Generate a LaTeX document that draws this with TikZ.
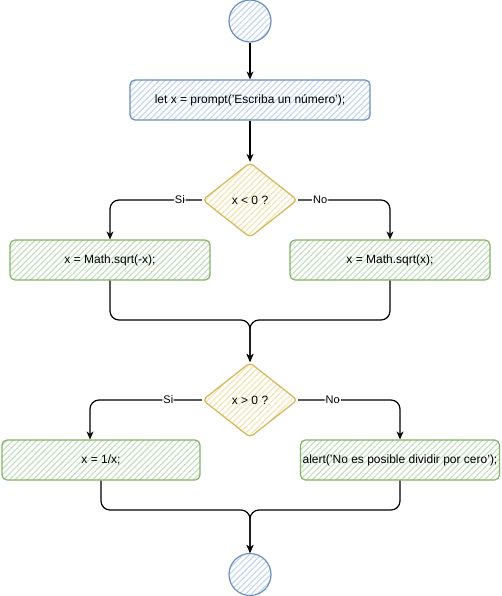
\documentclass[tikz,border=0pt]{standalone}
\usepackage{fontspec}
\setmainfont{Liberation Sans}
\usetikzlibrary{shapes.geometric,arrows.meta,patterns.meta}
\definecolor{bfill}{HTML}{DAE8FC}
\definecolor{bstroke}{HTML}{6C8EBF}
\definecolor{gfill}{HTML}{D5E8D4}
\definecolor{gstroke}{HTML}{82B366}
\definecolor{yfill}{HTML}{FFF2CC}
\definecolor{ystroke}{HTML}{D6B656}
\begin{document}
\begin{tikzpicture}[x=1pt,y=-1pt,
  hatch/.style={pattern={Lines[angle=45,distance=4.2pt,line width=1.1pt]}},
  bluebox/.style={draw=bstroke,line width=1.2pt,hatch,pattern color=bfill!80!bstroke},
  greenbox/.style={draw=gstroke,line width=1.2pt,hatch,pattern color=gfill!80!gstroke},
  yellowbox/.style={draw=ystroke,line width=1.2pt,hatch,pattern color=yfill!75!ystroke},
  term/.style={circle,bluebox,minimum size=42pt,inner sep=0pt},
  procbox/.style={rectangle,rounded corners=5pt,minimum height=40pt,inner sep=0pt,font=\fontsize{12pt}{14pt}\selectfont},
  decision/.style={diamond,yellowbox,rounded corners=4pt,minimum width=95pt,minimum height=75pt,inner sep=0pt,font=\fontsize{12pt}{14pt}\selectfont},
  edge/.style={draw=black,line width=1.2pt,rounded corners=9pt,-{Stealth[open,length=8pt,width=7pt,inset=2.5pt]}},
  lbl/.style={fill=white,inner sep=1pt,font=\fontsize{11pt}{13pt}\selectfont}]
\useasboundingbox (0,0) rectangle (501,596);
\fill[white] (0,0) rectangle (501,596);

\node[term] (s) at (250,21) {};
\node[procbox,bluebox,minimum width=240pt] (p) at (250,100) {let x = prompt('Escriba un número');};
\node[decision] (d1) at (250,200) {x < 0 ?};
\node[procbox,greenbox,minimum width=200pt] (l1) at (110,260) {x = Math.sqrt(-x);};
\node[procbox,greenbox,minimum width=200pt] (r1) at (390,260) {x = Math.sqrt(x);};
\node[decision] (d2) at (250,400) {x > 0 ?};
\node[procbox,greenbox,minimum width=198pt] (l2) at (101,460) {x = 1/x;};
\node[procbox,greenbox,minimum width=199pt] (r2) at (400,460) {alert('No es posible dividir por cero');};
\node[term] (e) at (250,574.5) {};

\coordinate (m1) at (250,320);
\coordinate (m2) at (250,510);

\draw[edge] (s) -- (p);
\draw[edge] (p) -- (d1);
\draw[edge] (d1.west) -| node[lbl,pos=0.12]{Si} (l1.north);
\draw[edge] (d1.east) -| node[lbl,pos=0.12]{No} (r1.north);
\draw[edge] (l1.south) |- (m1) -- (d2.north);
\draw[edge] (r1.south) |- (m1) -- (d2.north);
\draw[edge] (d2.west) -| node[lbl,pos=0.15]{Si} ([xshift=-11pt]l2.north);
\draw[edge] (d2.east) -| node[lbl,pos=0.17]{No} (r2.north);
\draw[edge] (l2.south) |- (m2) -- (e.north);
\draw[edge] (r2.south) |- (m2) -- (e.north);
\end{tikzpicture}
\end{document}
